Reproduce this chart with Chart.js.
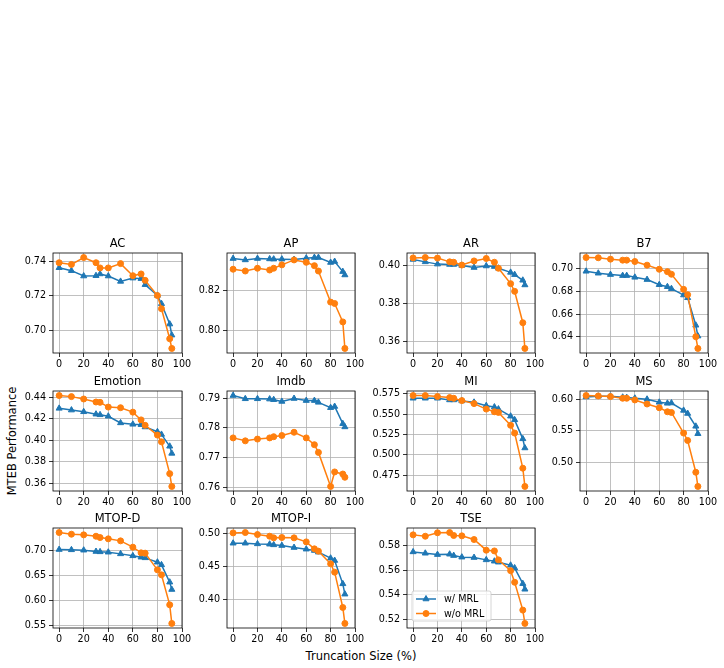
<!DOCTYPE html>
<html>
<head>
<meta charset="utf-8">
<script src="https://cdn.jsdelivr.net/npm/chart.js@4.4.1/dist/chart.umd.min.js"></script>
<style>
  html, body { margin: 0; padding: 0; background: #fff; }
  #fig { position: relative; width: 724px; height: 668px; overflow: hidden; font-family: "DejaVu Sans", sans-serif; }
  #fig canvas { position: absolute; }
  .lbl { position: absolute; font-size: 11.5px; color: #000; white-space: nowrap; }
</style>
</head>
<body>
<div id="fig">
  <div class="lbl" id="ylab" style="left:12px; top:441px; transform: translate(-50%, -50%) rotate(-90deg);">MTEB Performance</div>
  <div class="lbl" id="xlab" style="left:361px; top:656px; transform: translate(-50%, -50%);">Truncation Size (%)</div>
</div>
<script>
// truncation size (%) shared by every panel
const truncation = [0, 10, 20, 30, 33.3, 40, 50, 60, 66.7, 70, 80, 83.3, 90, 91.7];
const xTicks = [0, 20, 40, 60, 80, 100];

// w/ MRL and w/o MRL per task
const acMrl = [0.7361, 0.7344, 0.7313, 0.7315, 0.7325, 0.7313, 0.7282, 0.7301, 0.7298, 0.7263, 0.7201, 0.7153, 0.7035, 0.6971];
const acNoMrl = [0.7390, 0.7380, 0.7420, 0.7390, 0.7360, 0.7360, 0.7385, 0.7315, 0.7325, 0.7288, 0.7200, 0.7124, 0.6950, 0.6894];
const acTicks = [0.70, 0.72, 0.74];

const apMrl = [0.8361, 0.8354, 0.8361, 0.8359, 0.8358, 0.8358, 0.8356, 0.8363, 0.8366, 0.8366, 0.8341, 0.8346, 0.8295, 0.8278];
const apNoMrl = [0.8307, 0.8298, 0.8312, 0.8303, 0.8312, 0.8329, 0.8354, 0.8342, 0.8325, 0.8298, 0.8141, 0.8134, 0.8041, 0.7907];
const apTicks = [0.80, 0.82];

const arMrl = [0.4035, 0.4022, 0.4010, 0.4008, 0.4008, 0.4003, 0.3992, 0.4000, 0.3997, 0.3988, 0.3966, 0.3954, 0.3924, 0.3899];
const arNoMrl = [0.4043, 0.4045, 0.4042, 0.4022, 0.4020, 0.4005, 0.4027, 0.4040, 0.4020, 0.3988, 0.3906, 0.3865, 0.3698, 0.3561];
const arTicks = [0.36, 0.38, 0.40];

const b7Mrl = [0.6976, 0.6959, 0.6947, 0.6938, 0.6938, 0.6923, 0.6903, 0.6858, 0.6840, 0.6823, 0.6767, 0.6743, 0.6501, 0.6406];
const b7NoMrl = [0.7097, 0.7095, 0.7083, 0.7074, 0.7074, 0.7062, 0.7030, 0.6994, 0.6973, 0.6950, 0.6817, 0.6770, 0.6400, 0.6297];
const b7Ticks = [0.64, 0.66, 0.68, 0.70];

const emoMrl = [0.4297, 0.4281, 0.4265, 0.4243, 0.4237, 0.4224, 0.4162, 0.4149, 0.4146, 0.4124, 0.4080, 0.4055, 0.3945, 0.3879];
const emoNoMrl = [0.4416, 0.4406, 0.4384, 0.4356, 0.4353, 0.4309, 0.4303, 0.4262, 0.4190, 0.4140, 0.4049, 0.3986, 0.3691, 0.3572];
const emoTicks = [0.36, 0.38, 0.40, 0.42, 0.44];

const imdbMrl = [0.7909, 0.7898, 0.7898, 0.7897, 0.7895, 0.7889, 0.7899, 0.7892, 0.7892, 0.7886, 0.7868, 0.7872, 0.7814, 0.7803];
const imdbNoMrl = [0.7766, 0.7756, 0.7762, 0.7766, 0.7770, 0.7774, 0.7785, 0.7766, 0.7743, 0.7717, 0.7602, 0.7651, 0.7644, 0.7633];
const imdbTicks = [0.76, 0.77, 0.78, 0.79];

const miMrl = [0.5695, 0.5695, 0.5695, 0.5674, 0.5674, 0.5662, 0.5645, 0.5604, 0.5587, 0.5562, 0.5475, 0.5430, 0.5197, 0.5085];
const miNoMrl = [0.5728, 0.5728, 0.5716, 0.5703, 0.5695, 0.5666, 0.5629, 0.5562, 0.5529, 0.5521, 0.5363, 0.5268, 0.4837, 0.4613];
const miTicks = [0.475, 0.500, 0.525, 0.550, 0.575];

const msMrl = [0.6037, 0.6048, 0.6048, 0.6032, 0.6027, 0.6016, 0.6000, 0.5952, 0.5936, 0.5941, 0.5824, 0.5775, 0.5572, 0.5455];
const msNoMrl = [0.6059, 0.6053, 0.6043, 0.6016, 0.6016, 0.5989, 0.5925, 0.5866, 0.5802, 0.5791, 0.5465, 0.5348, 0.4845, 0.4620];
const msTicks = [0.50, 0.55, 0.60];

const mtopdMrl = [0.7013, 0.7007, 0.7000, 0.6974, 0.6967, 0.6960, 0.6927, 0.6888, 0.6861, 0.6848, 0.6762, 0.6709, 0.6366, 0.6220];
const mtopdNoMrl = [0.7350, 0.7317, 0.7304, 0.7277, 0.7251, 0.7225, 0.7185, 0.7060, 0.6947, 0.6941, 0.6610, 0.6511, 0.5917, 0.5547];
const mtopdTicks = [0.55, 0.60, 0.65, 0.70];

const mtopiMrl = [0.4854, 0.4854, 0.4844, 0.4839, 0.4829, 0.4819, 0.4789, 0.4764, 0.4744, 0.4719, 0.4628, 0.4593, 0.4241, 0.4085];
const mtopiNoMrl = [0.5010, 0.5015, 0.4985, 0.4960, 0.4935, 0.4940, 0.4935, 0.4874, 0.4769, 0.4734, 0.4543, 0.4417, 0.3884, 0.3643];
const mtopiTicks = [0.40, 0.45, 0.50];

const tseMrl = [0.5748, 0.5737, 0.5726, 0.5729, 0.5718, 0.5705, 0.5702, 0.5683, 0.5672, 0.5664, 0.5639, 0.5617, 0.5489, 0.5443];
const tseNoMrl = [0.5887, 0.5876, 0.5904, 0.5906, 0.5882, 0.5879, 0.5849, 0.5762, 0.5756, 0.5683, 0.5595, 0.5500, 0.5273, 0.5164];
const tseTicks = [0.52, 0.54, 0.56, 0.58];

const seriesNames = ['w/ MRL', 'w/o MRL'];

const panels = [
  { name: 'AC', mrl: acMrl, noMrl: acNoMrl, ticks: acTicks, dec: 2 },
  { name: 'AP', mrl: apMrl, noMrl: apNoMrl, ticks: apTicks, dec: 2 },
  { name: 'AR', mrl: arMrl, noMrl: arNoMrl, ticks: arTicks, dec: 2 },
  { name: 'B7', mrl: b7Mrl, noMrl: b7NoMrl, ticks: b7Ticks, dec: 2 },
  { name: 'Emotion', mrl: emoMrl, noMrl: emoNoMrl, ticks: emoTicks, dec: 2 },
  { name: 'Imdb', mrl: imdbMrl, noMrl: imdbNoMrl, ticks: imdbTicks, dec: 2 },
  { name: 'MI', mrl: miMrl, noMrl: miNoMrl, ticks: miTicks, dec: 3 },
  { name: 'MS', mrl: msMrl, noMrl: msNoMrl, ticks: msTicks, dec: 2 },
  { name: 'MTOP-D', mrl: mtopdMrl, noMrl: mtopdNoMrl, ticks: mtopdTicks, dec: 2 },
  { name: 'MTOP-I', mrl: mtopiMrl, noMrl: mtopiNoMrl, ticks: mtopiTicks, dec: 2 },
  { name: 'TSE', mrl: tseMrl, noMrl: tseNoMrl, ticks: tseTicks, dec: 2, legend: true }
];

// plot-area placement in the figure (px)
const colLeft = [53, 227, 407, 580];
const colWidth = [129, 128, 128, 128];
const rowTop = [253, 391, 528];
const plotH = 100;
const yAxisW = 50, titleH = 20, xAxisH = 22, padR = 14;

const BLUE = '#1f77b4', ORANGE = '#ff7f0e';
const FONT = '"DejaVu Sans", sans-serif';

// frame + panel title + optional in-axes legend
const panelDecor = {
  id: 'panelDecor',
  afterDatasetsDraw(chart, args, opts) {
    const { ctx, chartArea: a } = chart;
    ctx.save();
    ctx.strokeStyle = '#000';
    ctx.lineWidth = 0.8;
    ctx.strokeRect(a.left, a.top, a.right - a.left, a.bottom - a.top);
    ctx.fillStyle = '#000';
    ctx.font = '11.5px ' + FONT;
    ctx.textAlign = 'center';
    ctx.textBaseline = 'alphabetic';
    ctx.fillText(opts.title, (a.left + a.right) / 2, a.top - 6);

    if (opts.legend) {
      const bx = a.left + 5, bw = 79, bh = 30, by = a.bottom - 7 - bh;
      ctx.fillStyle = 'rgba(255,255,255,0.8)';
      ctx.strokeStyle = '#cccccc';
      ctx.lineWidth = 0.8;
      ctx.beginPath();
      ctx.roundRect(bx, by, bw, bh, 2);
      ctx.fill();
      ctx.stroke();
      const rows = [
        { label: seriesNames[0], color: BLUE, style: 'triangle' },
        { label: seriesNames[1], color: ORANGE, style: 'circle' }
      ];
      rows.forEach((r, i) => {
        const cy = by + 8 + i * 14.5;
        ctx.strokeStyle = r.color;
        ctx.lineWidth = 1.5;
        ctx.beginPath();
        ctx.moveTo(bx + 4, cy);
        ctx.lineTo(bx + 24, cy);
        ctx.stroke();
        ctx.fillStyle = r.color;
        ctx.strokeStyle = r.color;
        ctx.lineWidth = 1;
        Chart.helpers.drawPoint(ctx, {
          pointStyle: r.style, radius: r.style === 'triangle' ? 3.5 : 3, borderWidth: 1, rotation: 0
        }, bx + 14, cy);
        ctx.fillStyle = '#000';
        ctx.font = '9.6px ' + FONT;
        ctx.textAlign = 'left';
        ctx.textBaseline = 'middle';
        ctx.fillText(r.label, bx + 32, cy + 0.5);
      });
    }
    ctx.restore();
  }
};

const fig = document.getElementById('fig');

panels.forEach((p, i) => {
  const col = i % 4, row = Math.floor(i / 4);
  const w = yAxisW + colWidth[col] + padR;
  const h = titleH + plotH + xAxisH;
  const cv = document.createElement('canvas');
  cv.width = w; cv.height = h;
  cv.style.left = (colLeft[col] - yAxisW) + 'px';
  cv.style.top = (rowTop[row] - titleH) + 'px';
  cv.style.width = w + 'px'; cv.style.height = h + 'px';
  fig.appendChild(cv);

  // matplotlib-style 5% margin around the data
  const all = p.mrl.concat(p.noMrl);
  const lo = Math.min(...all), hi = Math.max(...all);
  const m = (hi - lo) * 0.05;

  const pts = vals => truncation.map((x, k) => ({ x: x, y: vals[k] }));

  new Chart(cv.getContext('2d'), {
    type: 'line',
    data: {
      datasets: [
        {
          label: seriesNames[0], data: pts(p.mrl), order: 1,
          borderColor: BLUE, backgroundColor: BLUE, borderWidth: 1.5,
          pointStyle: 'triangle', pointRadius: 3.5, pointBorderWidth: 1,
          pointBackgroundColor: BLUE, pointBorderColor: BLUE, tension: 0
        },
        {
          label: seriesNames[1], data: pts(p.noMrl), order: 0,
          borderColor: ORANGE, backgroundColor: ORANGE, borderWidth: 1.5,
          pointStyle: 'circle', pointRadius: 3, pointBorderWidth: 1,
          pointBackgroundColor: ORANGE, pointBorderColor: ORANGE, tension: 0
        }
      ]
    },
    options: {
      responsive: false,
      animation: false,
      devicePixelRatio: 1,
      layout: { padding: { top: titleH, right: padR, left: 0, bottom: 0 } },
      plugins: {
        legend: { display: false },
        tooltip: { enabled: false },
        panelDecor: { title: p.name, legend: !!p.legend }
      },
      scales: {
        x: {
          type: 'linear', min: -5, max: 100,
          afterBuildTicks: axis => { axis.ticks = xTicks.map(v => ({ value: v })); },
          afterFit: axis => { axis.height = xAxisH; },
          grid: { color: '#b0b0b0', lineWidth: 0.8, tickColor: '#000', tickWidth: 0.8, tickLength: 4 },
          border: { display: false },
          ticks: { color: '#000', font: { family: FONT, size: 9.6 }, padding: 2, maxRotation: 0, autoSkip: false,
                   callback: v => String(v) }
        },
        y: {
          type: 'linear', min: lo - m, max: hi + m,
          afterBuildTicks: axis => { axis.ticks = p.ticks.map(v => ({ value: v })); },
          afterFit: axis => { axis.width = yAxisW; },
          grid: { color: '#b0b0b0', lineWidth: 0.8, tickColor: '#000', tickWidth: 0.8, tickLength: 4 },
          border: { display: false },
          ticks: { color: '#000', font: { family: FONT, size: 9.6 }, padding: 3, autoSkip: false,
                   callback: v => v.toFixed(p.dec) }
        }
      }
    },
    plugins: [panelDecor]
  });
});
</script>
</body>
</html>
